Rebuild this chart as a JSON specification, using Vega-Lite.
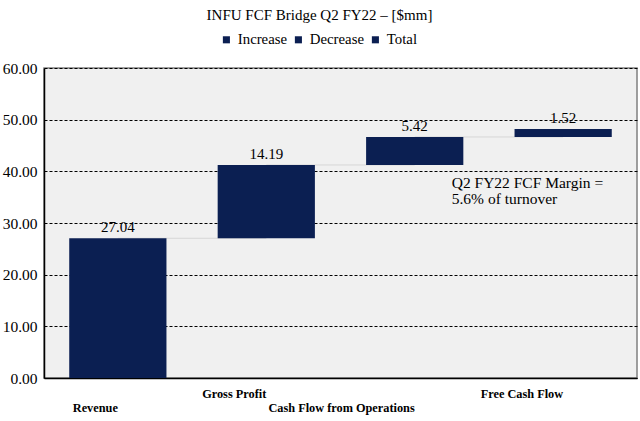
{
  "$schema": "https://vega.github.io/schema/vega-lite/v6.json",
  "width": 593,
  "height": 310,
  "autosize": {"type": "none"},
  "padding": {"left": 44, "top": 68, "right": 3, "bottom": 43},
  "background": "white",
  "title": {
    "text": "INFU FCF Bridge Q2 FY22 – [$mm]",
    "font": "Liberation Serif",
    "fontSize": 15,
    "fontWeight": "normal",
    "color": "black",
    "anchor": "middle",
    "frame": "group",
    "dx": -21,
    "offset": 9
  },
  "config": {
    "view": {"fill": "#f0f0f0", "stroke": "#808080", "strokeWidth": 1.5},
    "font": "Liberation Serif"
  },
  "data": {
    "values": [
      {"cat": "Revenue", "start": 0, "end": 27.04, "delta": 27.04, "type": "Increase", "next": "Gross Profit"},
      {"cat": "Gross Profit", "start": 27.04, "end": 41.23, "delta": 14.19, "type": "Increase", "next": "Cash Flow from Operations"},
      {"cat": "Cash Flow from Operations", "start": 41.23, "end": 46.65, "delta": 5.42, "type": "Decrease", "next": "Free Cash Flow"},
      {"cat": "Free Cash Flow", "start": 46.65, "end": 48.17, "delta": 1.52, "type": "Total", "next": null}
    ]
  },
  "layer": [
    {
      "transform": [{"filter": "datum.next != null"}],
      "mark": {"type": "rule", "color": "#d6d6d6", "strokeWidth": 1},
      "encoding": {
        "x": {"field": "cat", "type": "nominal", "sort": ["Revenue", "Gross Profit", "Cash Flow from Operations", "Free Cash Flow"]},
        "x2": {"field": "next"},
        "y": {"field": "end", "type": "quantitative"}
      }
    },
    {
      "mark": {"type": "bar"},
      "encoding": {
        "x": {
          "field": "cat",
          "type": "nominal",
          "sort": ["Revenue", "Gross Profit", "Cash Flow from Operations", "Free Cash Flow"],
          "scale": {"paddingInner": 0.345, "paddingOuter": 0.17},
          "axis": {
            "title": null,
            "labelAngle": 0,
            "labelFont": "Liberation Serif",
            "labelFontSize": 12.3,
            "labelFontWeight": "bold",
            "labelColor": "black",
            "ticks": false,
            "tickSize": 0,
            "labelBaseline": "top",
            "labelPadding": {"condition": {"test": "datum.value == 'Revenue' || datum.value == 'Cash Flow from Operations'", "value": 23}, "value": 9},
            "domainColor": "black",
            "domainWidth": 1.5,
            "labelLimit": 300
          }
        },
        "y": {
          "field": "start",
          "type": "quantitative",
          "scale": {"domain": [0, 60], "nice": false},
          "axis": {
            "title": null,
            "values": [0, 10, 20, 30, 40, 50, 60],
            "format": ".2f",
            "labelFont": "Liberation Serif",
            "labelFontSize": 15.5,
            "labelColor": "black",
            "ticks": false,
            "tickSize": 0,
            "labelPadding": 7,
            "domainColor": "black",
            "domainWidth": 1.5,
            "grid": true,
            "gridColor": "black",
            "gridDash": [3, 2],
            "gridWidth": 1
          }
        },
        "y2": {"field": "end"},
        "color": {
          "field": "type",
          "type": "nominal",
          "scale": {"domain": ["Increase", "Decrease", "Total"], "range": ["#0b1f52", "#0b1f52", "#0b1f52"]},
          "legend": {
            "title": null,
            "orient": "none",
            "legendX": 175,
            "legendY": -36,
            "direction": "horizontal",
            "columns": 3,
            "gridAlign": "each",
            "symbolType": "square",
            "symbolSize": 50,
            "symbolStrokeWidth": 0,
            "labelFont": "Liberation Serif",
            "labelFontSize": 14.8,
            "labelColor": "black",
            "labelOffset": 4,
            "columnPadding": 3
          }
        }
      }
    },
    {
      "mark": {"type": "text", "font": "Liberation Serif", "fontSize": 15, "color": "black", "baseline": "bottom", "dy": -3},
      "encoding": {
        "x": {"field": "cat", "type": "nominal", "sort": ["Revenue", "Gross Profit", "Cash Flow from Operations", "Free Cash Flow"]},
        "y": {"field": "end", "type": "quantitative"},
        "text": {"field": "delta", "type": "quantitative", "format": ".2f"}
      }
    },
    {
      "data": {"values": [{"cat": "Cash Flow from Operations", "yv": 39.1, "note": ["Q2 FY22 FCF Margin =", "5.6% of turnover"]}]},
      "mark": {"type": "text", "font": "Liberation Serif", "fontSize": 15.5, "color": "black", "align": "left", "baseline": "top", "dx": 37, "lineHeight": 16},
      "encoding": {
        "x": {"field": "cat", "type": "nominal", "sort": ["Revenue", "Gross Profit", "Cash Flow from Operations", "Free Cash Flow"]},
        "y": {"field": "yv", "type": "quantitative"},
        "text": {"field": "note"}
      }
    }
  ]
}
